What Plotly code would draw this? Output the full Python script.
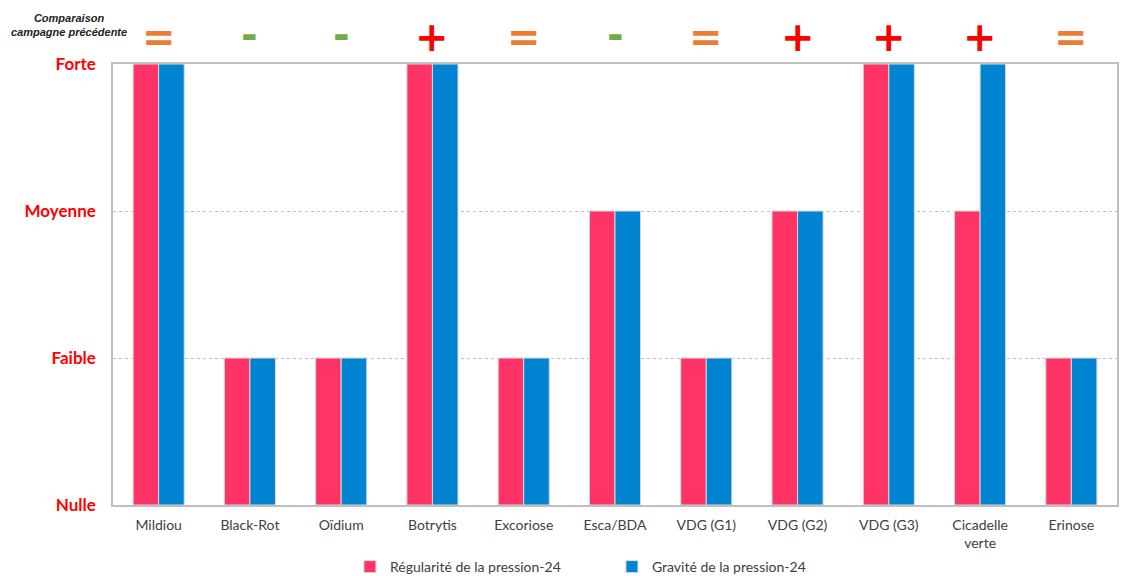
import plotly.graph_objects as go

categories = ["Mildiou", "Black-Rot", "Oïdium", "Botrytis", "Excoriose", "Esca/BDA",
              "VDG (G1)", "VDG (G2)", "VDG (G3)", "Cicadelle<br>verte", "Erinose"]
regularite = [3, 1, 1, 3, 1, 2, 1, 2, 3, 2, 1]
gravite = [3, 1, 1, 3, 1, 2, 1, 2, 3, 3, 1]
comparaison = ["=", "-", "-", "+", "=", "-", "=", "+", "+", "+", "="]
level_vals = [0, 1, 2, 3]
level_text = ["Nulle", "Faible", "Moyenne", "Forte"]

PINK = "#FF3366"
BLUE = "#0084D1"
# glyph, colour, font size and vertical offset for each comparison symbol
sym_style = {
    "=": dict(glyph="=", color="#ED7D31", size=40, shift=2),
    "-": dict(glyph="-", color="#70AD47", size=40, shift=4),
    "+": dict(glyph="+", color="#FF0000", size=40, shift=2),
}

fig = go.Figure()
fig.add_bar(x=categories, y=regularite, name="Régularité de la pression-24",
            marker=dict(color=PINK, line=dict(color="#D9D9D9", width=1)))
fig.add_bar(x=categories, y=gravite, name="Gravité de la pression-24",
            marker=dict(color=BLUE, line=dict(color="#D9D9D9", width=1)))

for cat, sym in zip(categories, comparaison):
    st = sym_style[sym]
    fig.add_annotation(x=cat, y=1.0, xref="x", yref="y domain", yanchor="bottom",
                       yshift=st["shift"], text="<b>%s</b>" % st["glyph"],
                       showarrow=False,
                       font=dict(family="DejaVu Sans", size=st["size"], color=st["color"]))

fig.add_annotation(xref="paper", yref="y domain", x=-0.044, y=1.0, yshift=24,
                   xanchor="center", yanchor="bottom",
                   text="<b><i>Comparaison<br>campagne précédente</i></b>",
                   showarrow=False, align="center",
                   font=dict(family="Liberation Sans", size=11, color="#222222"))

fig.update_layout(
    width=1136, height=576,
    margin=dict(l=113, r=19, t=64, b=10, autoexpand=False),
    paper_bgcolor="white", plot_bgcolor="white",
    barmode="group", bargap=0.44, bargroupgap=0,
    font=dict(family="Lato", color="#404040"),
    showlegend=True,
    legend=dict(orientation="h", x=0.236, xanchor="left", y=-0.002, yanchor="middle",
                bgcolor="rgba(0,0,0,0)",
                font=dict(size=14, color="#404040"), itemwidth=30,
                entrywidth=217, traceorder="normal"),
    xaxis=dict(showline=True, linecolor="#BFBFBF", linewidth=1.5, mirror=True,
               ticks="", tickfont=dict(size=14, color="#404040"),
               ticklabelstandoff=6),
    yaxis=dict(range=[0, 3], domain=[0.1215, 1], tickvals=level_vals,
               ticktext=["<b>%s</b>" % t for t in level_text],
               tickfont=dict(size=17, color="#FF0000", family="Lato", weight="bold"),
               showline=True, linecolor="#BFBFBF", linewidth=1.5, mirror=True,
               showgrid=True, gridcolor="#BFBFBF", griddash="dot", gridwidth=1,
               ticklabelstandoff=12, zeroline=False),
)

fig.write_html("out.html")
